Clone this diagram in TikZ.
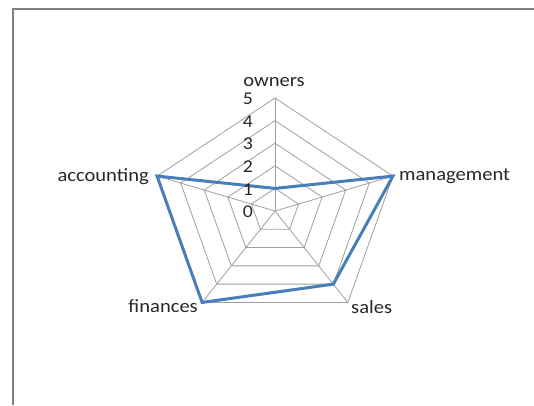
\documentclass[tikz,border=0pt]{standalone}
\usepackage{fontspec}
\setmainfont{Carlito}
\definecolor{seriesblue}{RGB}{74,126,187}
\definecolor{gridgray}{RGB}{160,160,160}
\definecolor{framegray}{RGB}{128,128,128}
\definecolor{txtcol}{RGB}{40,40,40}
\newcommand{\wtxt}[1]{\scalebox{1.1}[1]{#1}}
\begin{document}
\begin{tikzpicture}[x=1pt,y=-1pt,
  gridline/.style={draw=gridgray, line width=0.8pt},
  seriesline/.style={draw=seriesblue, line width=3pt, line join=miter},
  framelines/.style={draw=framegray, line width=1.5pt},
  lbl/.style={font=\fontsize{18.7}{21}\selectfont, text=txtcol, inner sep=0pt},
  numlbl/.style={font=\fontsize{18}{20}\selectfont, text=txtcol, inner sep=0pt}]
\useasboundingbox (0,0) rectangle (534,405);
\fill[white] (0,0) rectangle (534,405);
\draw[framelines] (13,405) -- (13,9) -- (534,9);
\coordinate (c) at (275,211);
\foreach \i in {0,...,4}
  \foreach \k in {1,...,5}
    \coordinate (v\i\k) at ({275+\k*24.8*sin(72*\i)},{211-\k*22.6*cos(72*\i)});
\foreach \k in {1,...,5}
  \draw[gridline] (v0\k) -- (v1\k) -- (v2\k) -- (v3\k) -- (v4\k) -- cycle;
\foreach \i in {0,...,4}
  \draw[gridline] (c) -- (v\i5);
\draw[seriesline] (v01) -- (v15) -- (v24) -- (v35) -- (v45) -- cycle;
\foreach \k in {0,...,5}
  \node[numlbl] (n\k) at (248,{212-\k*22.6}) {\wtxt{\k}};
\node[lbl, anchor=center] (owners) at (274,82) {\wtxt{owners}};
\node[lbl, anchor=west] (management) at (399,176) {\wtxt{management}};
\node[lbl, anchor=east] (accounting) at (149,177) {\wtxt{accounting}};
\node[lbl, anchor=east] (finances) at (198,306) {\wtxt{finances}};
\node[lbl, anchor=west] (sales) at (351,307) {\wtxt{sales}};
\end{tikzpicture}
\end{document}
